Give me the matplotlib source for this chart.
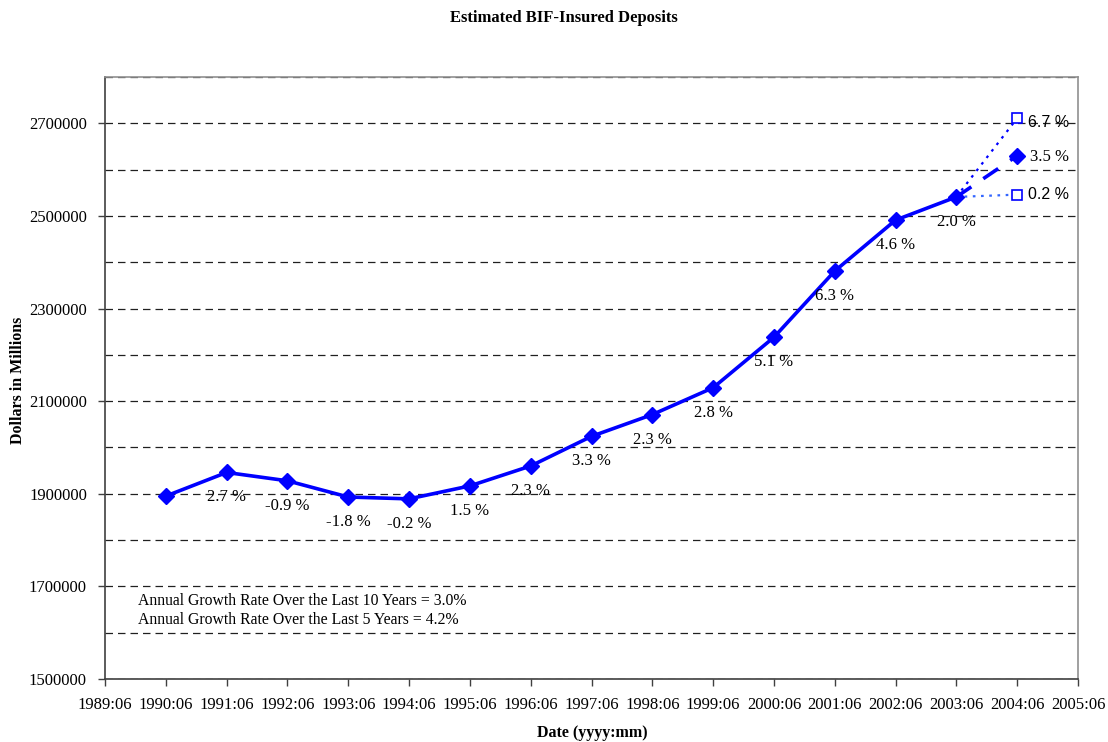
import matplotlib
matplotlib.use("Agg")
import matplotlib.pyplot as plt
from matplotlib.ticker import MultipleLocator, FixedLocator

years = [1990, 1991, 1992, 1993, 1994, 1995, 1996, 1997, 1998, 1999, 2000, 2001, 2002, 2003]
deposits = [1895000, 1946000, 1928000, 1893000, 1889000, 1917000, 1960000, 2024000,
            2071000, 2129000, 2238000, 2381000, 2491000, 2541000]
growth_labels = ["", "2.7 %", "-0.9 %", "-1.8 %", "-0.2 %", "1.5 %", "2.3 %", "3.3 %",
                 "2.3 %", "2.8 %", "5.1 %", "6.3 %", "4.6 %", "2.0 %"]
proj_year = 2004
proj_mid = 2630000
proj_high = 2711000
proj_low = 2546000
proj_mid_label = "3.5 %"
proj_high_label = "6.7 %"
proj_low_label = "0.2 %"
tick_years = list(range(1989, 2006))
tick_labels = [f"{y}:06" for y in tick_years]
ytick_values = [1500000, 1700000, 1900000, 2100000, 2300000, 2500000, 2700000]
notes = ["Annual Growth Rate Over the Last 10 Years = 3.0%",
         "Annual Growth Rate Over the Last 5 Years = 4.2%"]

serif = ["Liberation Serif", "DejaVu Serif"]
sans = ["Liberation Sans", "DejaVu Sans"]
plt.rcParams['font.family'] = serif

fig = plt.figure(figsize=(11.08, 7.42), dpi=100)
ax = fig.add_axes([105/1108, 63/742, (1078-105)/1108, (679-77)/742])

ax.set_xlim(1989, 2005)
ax.set_ylim(1500000, 2800000)

# grid
ax.yaxis.set_minor_locator(MultipleLocator(100000))
ax.set_yticks(ytick_values)
ax.set_yticklabels([str(v) for v in ytick_values])
ax.grid(True, which='both', axis='y', color='#202020', linestyle=(0, (6, 4)), linewidth=0.9)
ax.tick_params(axis='y', which='minor', length=0)
ax.set_axisbelow(True)

ax.xaxis.set_major_locator(FixedLocator(tick_years))
ax.set_xticklabels(tick_labels)
ax.tick_params(axis='both', which='major', direction='out', length=5, width=1,
               color='#404040', labelsize=12, pad=8)

for s in ['left', 'bottom']:
    ax.spines[s].set_color('#404040')
    ax.spines[s].set_linewidth(1.2)
for s in ['top', 'right']:
    ax.spines[s].set_color('#909090')
    ax.spines[s].set_linewidth(1.2)

blue = '#0000ff'
# projections
ax.plot([years[-1], proj_year], [deposits[-1], proj_high], color=blue, linestyle=(0, (1.2, 2.5)),
        linewidth=1.6, zorder=3)
ax.plot([years[-1], proj_year], [deposits[-1], proj_low], color='#3366ff', linestyle=(0, (1.2, 2.5)),
        linewidth=1.6, zorder=3)
ax.plot([years[-1], proj_year], [deposits[-1], proj_mid], color=blue, linestyle=(0, (5, 4)),
        linewidth=2.6, zorder=3)
ax.plot([proj_year], [proj_mid], marker='D', color=blue, markersize=8, linestyle='none', zorder=4)
ax.plot([proj_year, proj_year], [proj_high, proj_low], marker='s', markerfacecolor='white',
        markeredgecolor=blue, markeredgewidth=1.2, markersize=7, linestyle='none', zorder=4)

# main line
ax.plot(years, deposits, color=blue, linewidth=2.6, marker='D', markersize=8, zorder=4)

for x, y, lab in zip(years, deposits, growth_labels):
    if lab:
        ax.annotate(lab, (x, y), xytext=(0, -18), textcoords='offset points',
                    ha='center', va='center', fontsize=12, color='black', zorder=5)

ax.annotate(proj_high_label, (proj_year, proj_high), xytext=(8, -3), textcoords='offset points',
            ha='left', va='center', fontsize=11.5, family=sans, zorder=5)
ax.annotate(proj_mid_label, (proj_year, proj_mid), xytext=(9, -1), textcoords='offset points',
            ha='left', va='center', fontsize=12, zorder=5)
ax.annotate(proj_low_label, (proj_year, proj_low), xytext=(8, 0), textcoords='offset points',
            ha='left', va='center', fontsize=11.5, family=sans, zorder=5)

fig.text(138/1108, 1 - 601/742, notes[0], fontsize=11.3, va='center', ha='left')
fig.text(138/1108, 1 - 620/742, notes[1], fontsize=11.3, va='center', ha='left')

fig.text(564/1108, 1 - 18/742, "Estimated BIF-Insured Deposits", ha='center', va='center',
         fontsize=12, fontweight='bold')
fig.text(18/1108, 1 - 380/742, "Dollars in Millions", ha='center', va='center',
         fontsize=11.5, fontweight='bold', rotation=90)
fig.text(592/1108, 1 - 733/742, "Date (yyyy:mm)", ha='center', va='center',
         fontsize=11.5, fontweight='bold')

fig.savefig("out.png", dpi=100)
